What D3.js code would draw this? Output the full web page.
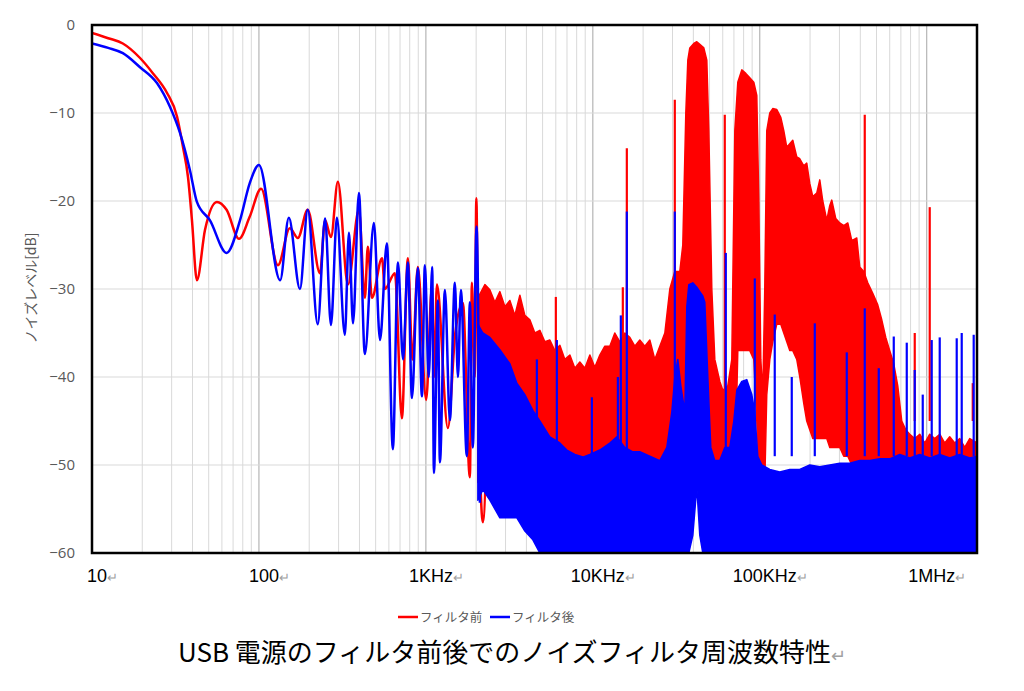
<!DOCTYPE html>
<html lang="ja">
<head>
<meta charset="UTF-8">
<title>USB 電源のフィルタ前後でのノイズフィルタ周波数特性</title>
<script src="https://cdn.jsdelivr.net/npm/d3@7"></script>
<style>
  body { margin: 0; background: #fff; }
  svg { display: block; font-family: "Noto Sans CJK JP", "Noto Sans", sans-serif; }
</style>
</head>
<body>
<svg id="chart" width="1024" height="691"></svg>
<script>
// axis ticks
const xTickValues = [10, 100, 1e3, 1e4, 1e5, 1e6]
const xTickLabels = ['10', '100', '1KHz', '10KHz', '100KHz', '1MHz']
const yTickValues = [0, -10, -20, -30, -40, -50, -60]

const seriesNames = ['フィルタ前', 'フィルタ後']
const seriesColors = ['#ff0000', '#0000ff']

// フィルタ前: low band as a line [Hz, dB]
const redLine = [
  [10,-0.9],[12.5,-1.5],[15.3,-2.1],[19.4,-3.75],[23.2,-5.5],[28.1,-7.7],[32.3,-10.4],[35.1,-13.9],
  [37.6,-17.3],[39.7,-22.2],[42.5,-29],[47.5,-23.3],[56,-20.1],[64,-21],[76,-24.3],[88,-21.8],
  [103,-18.6],[130,-27.3],[153,-23.1],[171,-24.2],[196,-21],[232,-28.2],[249,-22.2],[270,-24.1],
  [297,-17.8],[341,-29.5],[397,-21],[431,-31],[449,-25.2],[475,-31],[546,-26.5],[568,-30],
  [652,-28.2],[718,-44.7],[780,-26.5],[830,-38],[895,-27.5],[1004,-42.6],[1086,-29.8],[1120,-40],
  [1164,-29.5],[1354,-45.8],[1500,-35],[1665,-31.6],[1834,-51.4],[1886,-29.3],[1960,-40],
  [2005,-19.7],[2060,-40],[2194,-56.5],[2350,-42]
]
// フィルタ前: dense part as envelope [Hz, top dB, bottom dB]
const redBand = [
  [2048,-31,-52],[2256,-29.5,-52],[2416,-30.1,-52],[2590,-31.5,-52],[2774,-30.3,-52],[2972,-32,-52],
  [3184,-31.3,-52],[3410,-33,-52],[3655,-30.7,-52],[3915,-33,-52],[4195,-33.5,-52],[4494,-35,-52],
  [4815,-34.7,-52],[5159,-36,-52],[5527,-35.8,-52],[5922,-37,-52],[6345,-36.4,-52],[6797,-38,-52],
  [7284,-37.5,-52],[7802,-39,-52],[8360,-38.3,-52],[8956,-39,-52],[9594,-37.5,-52],[10280,-38.9,-52],
  [11010,-37.5,-52],[11800,-36.5,-52],[12640,-36.5,-52],[13540,-35,-52],[14510,-36,-52],[15540,-35,-52],
  [16650,-35.5,-52],[17840,-36.5,-52],[19110,-35.8,-52],[20480,-36.5,-52],[21940,-35.8,-52],
  [23510,-38,-52],[25190,-36.5,-52],[26990,-35,-52],[28910,-30,-52],[30970,-28,-52],[33190,-28,-52],
  [34580,-25,-52],[36050,-10,-52],[37060,-4,-52],[38090,-2.6,-52],[40250,-2.1,-52],[41950,-1.9,-52],
  [43720,-2.2,-52],[46200,-2.6,-52],[48150,-4,-52],[49500,-12,-52],[51590,-30,-52],[53770,-38,-52],
  [57610,-40.5,-52],[60030,-41.5,-52],[64330,-41,-52],[67970,-38,-52],[70850,-12,-52],[73840,-6.5,-37],
  [78020,-5.1,-37],[82450,-5.5,-37],[87100,-6,-37],[92060,-6.5,-38],[95940,-8,-45],[98630,-20,-52],
  [101400,-38,-52],[104200,-42,-52],[107100,-30,-52],[110100,-12,-42],[114800,-10,-38],[119600,-9.5,-36],
  [126400,-9.6,-34],[133600,-10.5,-34],[139200,-12,-35],[145100,-13.9,-36],[151200,-13.5,-37],
  [157600,-13.1,-37],[166500,-15,-38],[173600,-15.2,-40],[183400,-16,-43],[191100,-15.7,-45],
  [199200,-18,-46],[207700,-19.5,-47],[219400,-19.1,-47],[228700,-17.6,-47],[238400,-20,-47],
  [251900,-22.2,-47],[262600,-20.5,-48],[269900,-19.9,-48],[285200,-22,-48],[301300,-22.5,-48],
  [318400,-22.8,-49],[336500,-22.5,-49],[355600,-24.5,-50],[380900,-24.2,-51],[396900,-27.5,-52],
  [419500,-28,-52],[443300,-29.3,-52],[474900,-30.5,-52],[508800,-31.8,-52],[537700,-33.5,-52],
  [568300,-35.5,-52],[600300,-37,-52],[634500,-38.5,-52],[670400,-41,-52],[708500,-45,-52],
  [748700,-46,-52],[791100,-46.5,-52],[847500,-47,-52],[908100,-46.5,-52],[973000,-47.5,-52],
  [1042000,-46.5,-52],[1117000,-47,-52],[1196000,-46.5,-52],[1282000,-47.5,-52],[1373000,-46.8,-52],
  [1471000,-47.5,-52],[1576000,-47,-52],[1689000,-48,-52],[1809000,-47,-52],[2000000,-47.5,-52]
]
// フィルタ前: isolated spikes [Hz, top dB]
const redSpikes = [
  [6003,-30.9],[15120,-29.8],[15980,-14.0],[30970,-8.5],[61700,-10.2],[425300,-10.2],
  [847500,-35],[1042000,-20.7],[1886000,-40.7]
]

// フィルタ後
const blueLine = [
  [10,-2.1],[12.5,-2.6],[15.3,-3.2],[19.4,-4.8],[24.5,-6.6],[29.3,-9.3],[33.7,-12.3],[38.6,-16.5],
  [42.5,-20.1],[50.9,-22.2],[64,-25.9],[77,-22.2],[88,-18],[100,-15.9],[134,-29],[151,-21.9],
  [176,-30],[196,-21],[225,-34],[249,-22],[270,-34.1],[293,-21.9],[327,-35.2],[346,-23.6],
  [366,-33.9],[397,-19.1],[431,-37.4],[488,-22.5],[531,-35.8],[584,-24.8],[634,-48.2],[680,-27],
  [730,-38],[780,-27],[825,-42.4],[895,-27.6],[947,-42.2],[986,-27.3],[1040,-40],[1091,-27.5],
  [1117,-50.9],[1180,-31.3],[1213,-49.7],[1300,-30.1],[1392,-44.9],[1491,-29.3],[1556,-40],
  [1620,-30.1],[1759,-49],[1834,-31.5],[1911,-48],[2010,-22.9],[2106,-54.3]
]
const blueBand = [
  [2048,-34,-54],[2194,-35,-52.8],[2416,-35.5,-54],[2774,-36.9,-56],[3184,-38.5,-56],[3506,-40.7,-56],
  [3915,-42,-57.5],[4372,-43.8,-58.5],[4815,-45,-60],[5527,-46.8,-60],[6345,-47.5,-60],[6988,-48.3,-60],
  [7802,-48.8,-60],[8710,-49.1,-60],[9594,-48.8,-60],[11010,-48.3,-60],[12640,-47.5,-60],
  [13920,-46.8,-60],[15540,-48,-60],[17360,-48.5,-60],[19110,-48.5,-60],[21940,-49,-60],
  [25190,-49.5,-60],[27740,-48,-60],[29720,-44,-60],[30970,-40,-60],[32280,-38,-60],[33650,-41,-60],
  [35560,-44,-60],[36550,-32,-60],[37570,-29.5,-60],[39690,-29.3,-58],[41950,-29.8,-52.5],
  [43720,-30.3,-58],[45560,-30.8,-60],[46850,-31.5,-60],[48830,-40,-60],[50880,-48,-60],
  [53770,-49.5,-60],[57610,-49.5,-60],[61700,-48,-60],[66120,-48,-60],[69880,-45,-60],
  [72840,-41.5,-60],[78020,-40.5,-60],[83600,-40.3,-60],[89560,-42,-60],[93330,-44,-60],
  [97300,-49,-60],[102800,-50,-60],[114800,-50.5,-60],[131800,-50.8,-60],[151200,-50.5,-60],
  [173600,-50.5,-60],[199200,-50,-60],[228700,-50.2,-60],[262600,-50,-60],[301300,-49.8,-60],
  [345800,-49.8,-60],[396900,-49.5,-60],[455600,-49.5,-60],[523100,-49.3,-60],[600300,-49.3,-60],
  [689000,-48.8,-60],[791100,-49.2,-60],[908100,-48.8,-60],[1042000,-49.2,-60],[1196000,-48.8,-60],
  [1373000,-49.2,-60],[1576000,-48.8,-60],[1809000,-49.2,-60],[2000000,-49,-60]
]
const blueSpikes = [
  [4620,-38],[6087,-35.8],[9863,-42.3],[14120,-40],[14710,-33],[15980,-21.2],[30970,-21.2],
  [62580,-25.9],[93330,-28.8],[122900,-32.9],[155400,-40],[213500,-33.9],[331900,-37.2],
  [425300,-32.2],[515900,-39],[634500,-35.4],[759100,-36.1],[847500,-39.2],[946300,-42],
  [1071000,-35.8],[1196000,-35.5],[1512000,-35.6],[1620000,-35],[1911000,-35.2]
]

const series = [
  { line: redLine, band: redBand, spikes: redSpikes, base: -45 },
  { line: blueLine, band: blueBand, spikes: blueSpikes, base: -49 }
]

const plot = { left: 92, right: 977, top: 25, bottom: 553 }

const svg = d3.select('#chart')

const x = d3.scaleLog().domain([10, 2e6]).range([plot.left, plot.right])
const y = d3.scaleLinear().domain([-60, 0]).range([plot.bottom, plot.top])

svg.append('defs').append('clipPath').attr('id', 'clip')
  .append('rect')
  .attr('x', plot.left).attr('y', plot.top)
  .attr('width', plot.right - plot.left).attr('height', plot.bottom - plot.top)

// grid
const grid = svg.append('g')
const minor = x.ticks().filter(d => !xTickValues.includes(d))
grid.selectAll('.vminor').data(minor).enter().append('line')
  .attr('x1', d => x(d)).attr('x2', d => x(d))
  .attr('y1', plot.top).attr('y2', plot.bottom)
  .attr('stroke', '#d9d9d9').attr('stroke-width', 1)
grid.selectAll('.vmajor').data(xTickValues.slice(1)).enter().append('line')
  .attr('x1', d => x(d)).attr('x2', d => x(d))
  .attr('y1', plot.top).attr('y2', plot.bottom)
  .attr('stroke', '#a6a6a6').attr('stroke-width', 1)
grid.selectAll('.h').data(yTickValues.slice(1, -1)).enter().append('line')
  .attr('x1', plot.left).attr('x2', plot.right)
  .attr('y1', d => y(d)).attr('y2', d => y(d))
  .attr('stroke', '#d9d9d9').attr('stroke-width', 1)

// series
const marks = svg.append('g').attr('clip-path', 'url(#clip)')
const line = d3.line().x(d => x(d[0])).y(d => y(d[1])).curve(d3.curveMonotoneX)
const area = d3.area().x(d => x(d[0])).y0(d => y(d[2])).y1(d => y(d[1]))

series.forEach((s, i) => {
  const c = seriesColors[i]
  marks.append('path').datum(s.line)
    .attr('d', line).attr('fill', 'none')
    .attr('stroke', c).attr('stroke-width', 2.5).attr('stroke-linejoin', 'round')
  marks.append('path').datum(s.band)
    .attr('d', area).attr('fill', c)
    .attr('stroke', c).attr('stroke-width', 1.5).attr('stroke-linejoin', 'round')
  marks.selectAll(null).data(s.spikes).enter().append('line')
    .attr('x1', d => x(d[0])).attr('x2', d => x(d[0]))
    .attr('y1', y(s.base)).attr('y2', d => y(d[1]))
    .attr('stroke', c).attr('stroke-width', 2.2)
})

// frame
svg.append('rect')
  .attr('x', plot.left).attr('y', plot.top)
  .attr('width', plot.right - plot.left).attr('height', plot.bottom - plot.top)
  .attr('fill', 'none').attr('stroke', '#000').attr('stroke-width', 2.5)

// axes
const yAxis = svg.append('g')
  .attr('transform', `translate(${plot.left},0)`)
  .call(d3.axisLeft(y).tickValues(yTickValues).tickSize(0).tickPadding(17))
yAxis.select('.domain').remove()
yAxis.selectAll('text').attr('fill', '#595959').style('font-size', '15px')
  .style('font-family', '"Open Sans", sans-serif')

const xAxis = svg.append('g')
  .attr('transform', `translate(0,${plot.bottom})`)
  .call(d3.axisBottom(x).tickValues(xTickValues).tickSize(0).tickPadding(16).tickFormat(() => ''))
xAxis.select('.domain').remove()
xAxis.selectAll('text')
  .attr('dx', 10)
  .attr('fill', '#000')
  .style('font-size', '18px')
  .each(function (d, i) {
    const t = d3.select(this)
    t.text(xTickLabels[i])
    t.append('tspan').attr('fill', '#a0a0a0').style('font-size', '13px').text('↵')
  })

svg.append('text')
  .attr('transform', 'translate(36,288) rotate(-90)')
  .attr('text-anchor', 'middle')
  .attr('fill', '#595959')
  .style('font-size', '14px')
  .text('ノイズレベル[dB]')

// legend
const legend = svg.append('g').attr('transform', 'translate(398,617)')
seriesNames.forEach((name, i) => {
  const g = legend.append('g').attr('transform', `translate(${i * 92},0)`)
  g.append('line').attr('x1', 0).attr('x2', 20).attr('y1', 0).attr('y2', 0)
    .attr('stroke', seriesColors[i]).attr('stroke-width', 2.5)
  g.append('text').attr('x', 22).attr('y', 4.5)
    .attr('fill', '#595959').style('font-size', '12.5px').text(name)
})

// title
const title = svg.append('text')
  .attr('x', 512).attr('y', 662)
  .attr('text-anchor', 'middle')
  .attr('fill', '#000')
  .style('font-size', '26px')
  .text('USB 電源のフィルタ前後でのノイズフィルタ周波数特性')
title.append('tspan').attr('fill', '#a0a0a0').style('font-size', '18px').text('↵')
</script>
</body>
</html>
